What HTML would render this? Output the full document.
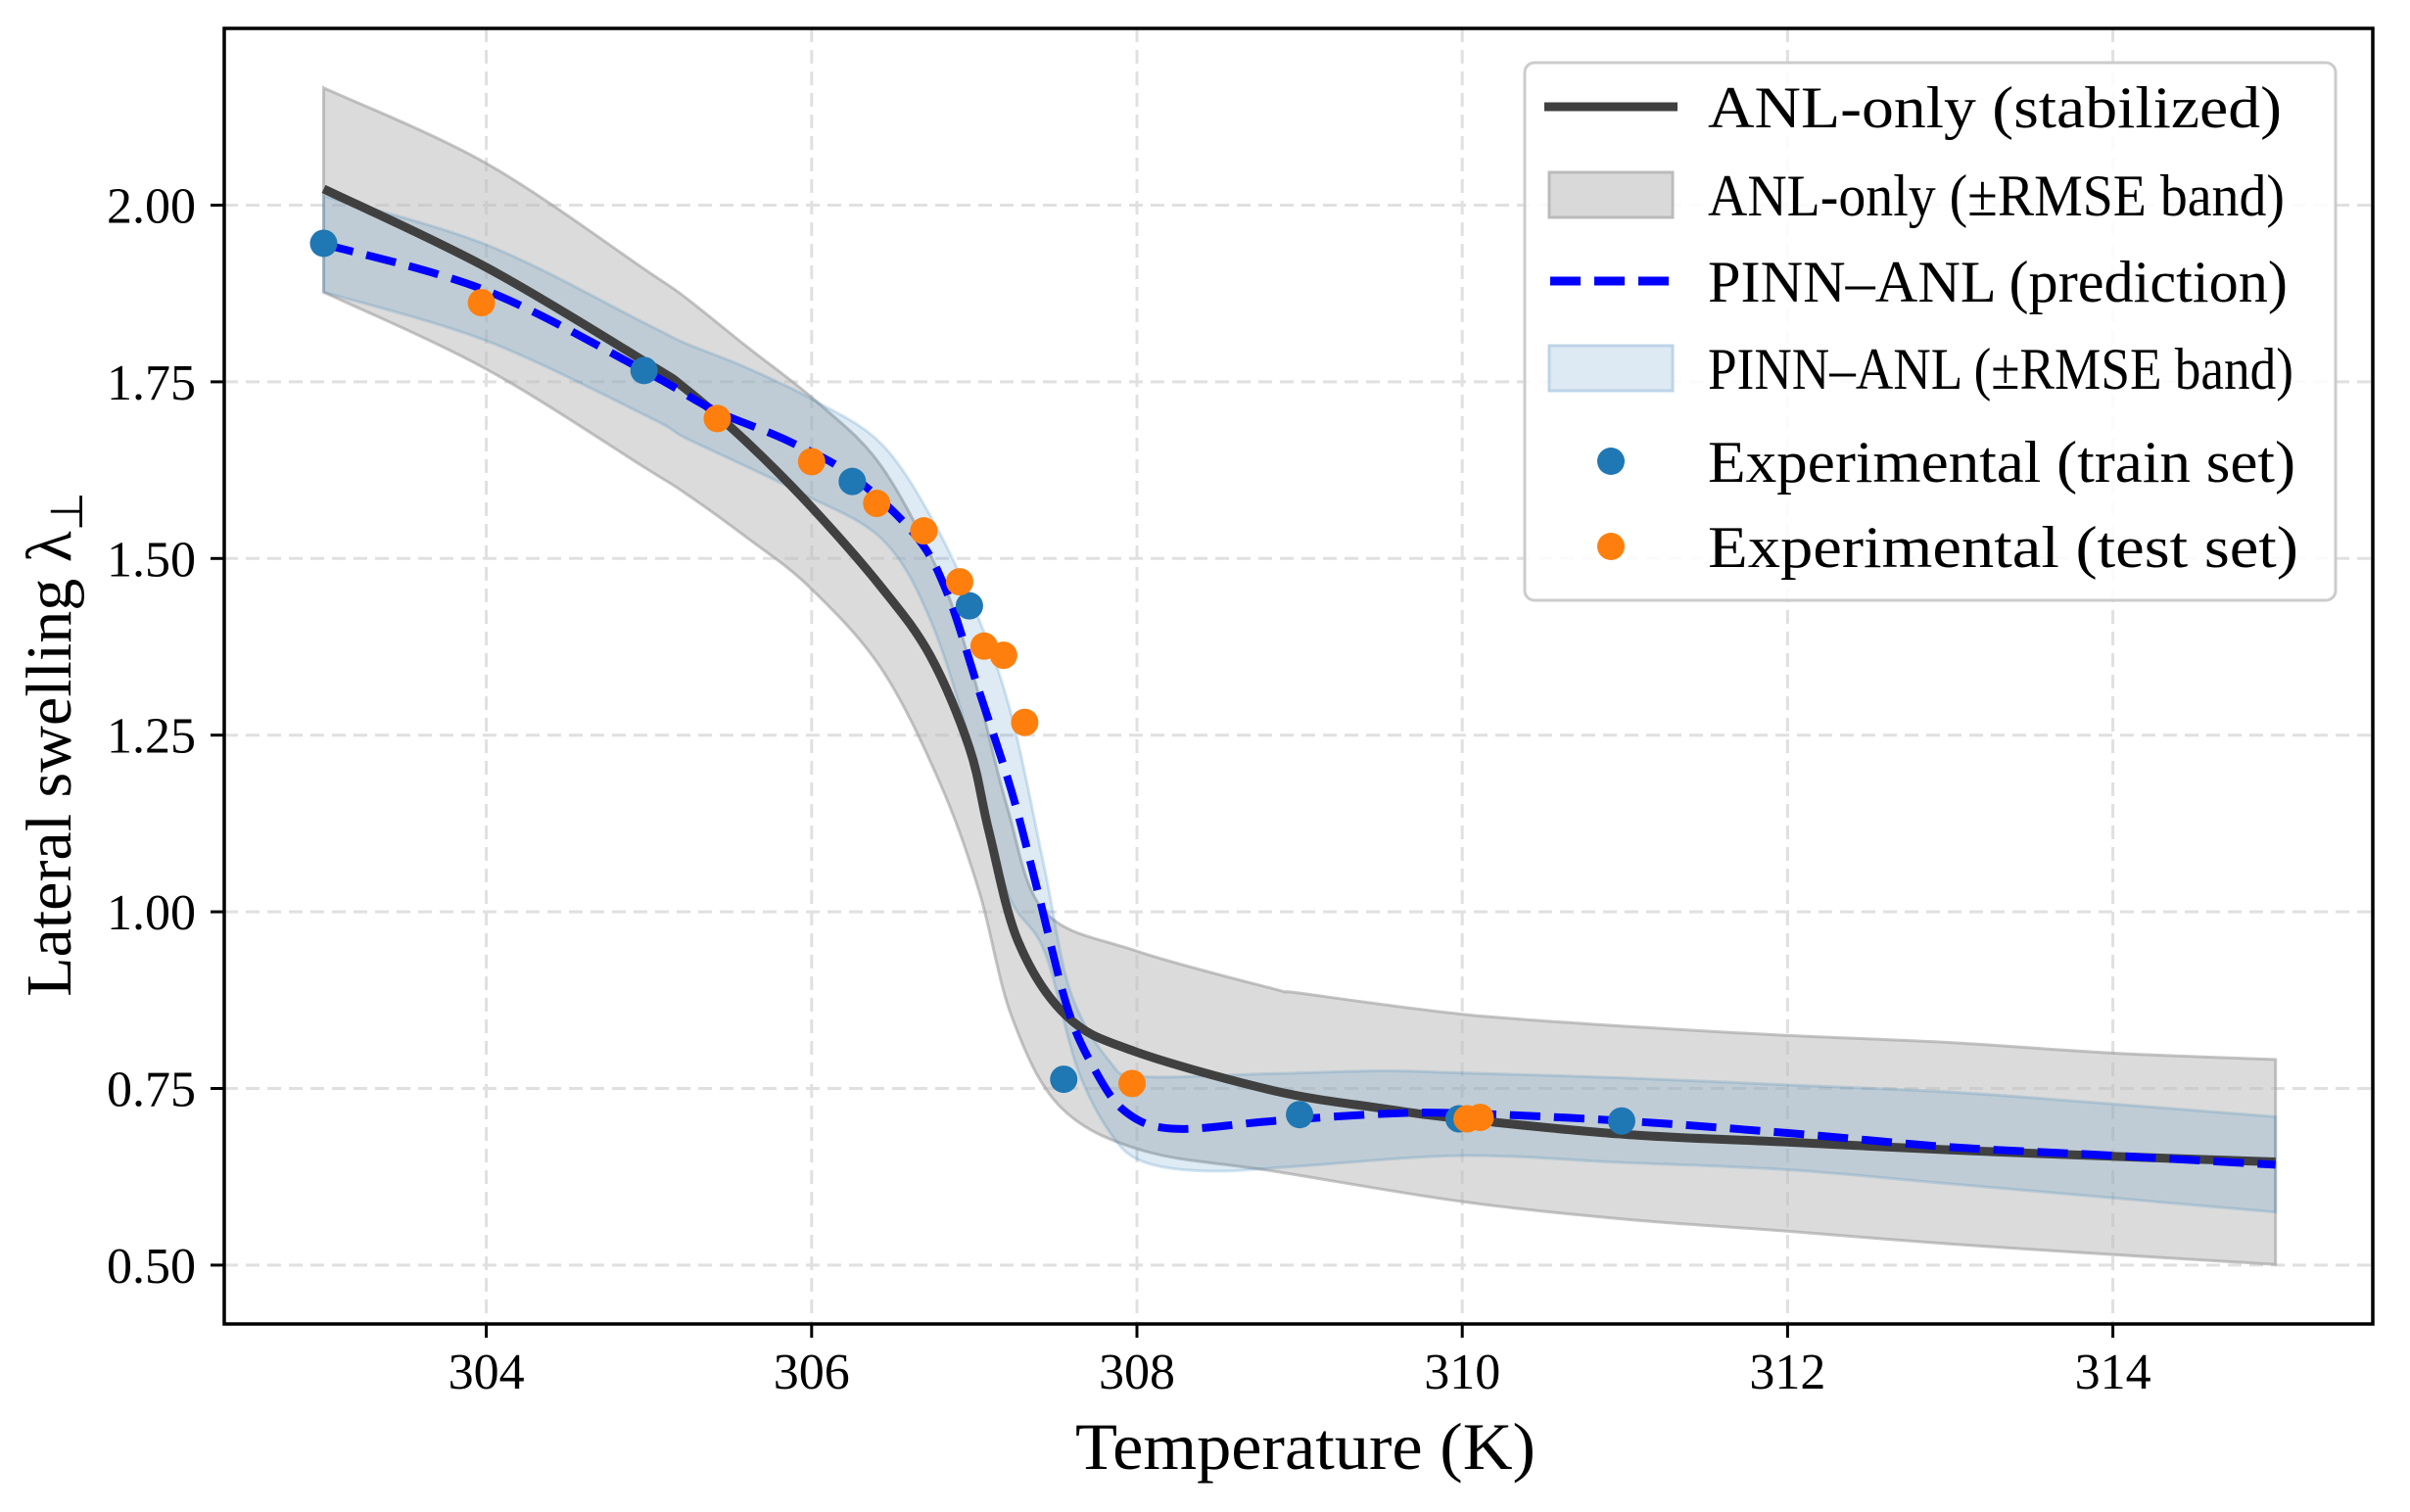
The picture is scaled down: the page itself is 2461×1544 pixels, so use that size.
<!DOCTYPE html>
<html><head><meta charset="utf-8"><style>
html,body{margin:0;padding:0;background:#fff}
svg{display:block;font-family:"Liberation Serif",serif}
</style></head><body>
<svg id="chart" width="2461" height="1544" viewBox="0 0 2461 1544" xmlns="http://www.w3.org/2000/svg">
<rect width="2461" height="1544" fill="#fff"/>
<g id="grid"></g>
<g id="bands"></g>
<g id="lines"></g>
<g id="points"></g>
<g id="axes"></g>
<text x="1333" y="1500" font-size="68" text-anchor="middle" textLength="470" lengthAdjust="spacingAndGlyphs">Temperature (K)</text>
<text transform="translate(72,760) rotate(-90)" font-size="66" text-anchor="middle">Lateral swelling λ<tspan font-size="46" dy="12">⊥</tspan></text>
<g id="legend">
  <rect x="1557" y="64" width="828" height="549" rx="10" fill="#fff" fill-opacity="0.85" stroke="#cccccc" stroke-width="3"/>
  <line x1="1577" y1="109" x2="1713" y2="109" stroke="#404040" stroke-width="9"/>
  <text x="1744" y="130" font-size="60" textLength="586" lengthAdjust="spacingAndGlyphs">ANL-only (stabilized)</text>
  <rect x="1582" y="176" width="126" height="46" fill="#d9d9d9" stroke="#bbbbbb" stroke-width="3"/>
  <text x="1744" y="220" font-size="60" textLength="589" lengthAdjust="spacingAndGlyphs">ANL-only (±RMSE band)</text>
  <line x1="1583" y1="287" x2="1705" y2="287" stroke="#0000ff" stroke-width="9" stroke-dasharray="31,14"/>
  <text x="1744" y="308" font-size="60" textLength="592" lengthAdjust="spacingAndGlyphs">PINN–ANL (prediction)</text>
  <rect x="1582" y="353" width="126" height="46" fill="#dde9f3" stroke="#bcd4e8" stroke-width="3"/>
  <text x="1744" y="397" font-size="60" textLength="598" lengthAdjust="spacingAndGlyphs">PINN–ANL (±RMSE band)</text>
  <circle cx="1645" cy="471" r="14" fill="#1f77b4"/>
  <text x="1744" y="492" font-size="60" textLength="600" lengthAdjust="spacingAndGlyphs">Experimental (train set)</text>
  <circle cx="1645" cy="558" r="14" fill="#ff7f0e"/>
  <text x="1744" y="579" font-size="60" textLength="603" lengthAdjust="spacingAndGlyphs">Experimental (test set)</text>
</g>
</svg>
<script>
const xTicks = [304, 306, 308, 310, 312, 314];
const yTicks = [0.50, 0.75, 1.00, 1.25, 1.50, 1.75, 2.00];
const yTickLabels = ["0.50", "0.75", "1.00", "1.25", "1.50", "1.75", "2.00"];
const xGrid = [304, 306, 308, 310, 312, 314];

const anlT = [303, 304, 305, 305.22, 305.6, 306.01, 306.43, 306.73, 306.97, 307.09, 307.27, 307.57, 307.98, 308.84, 309.5, 310, 311, 312, 313, 314, 315];
const anlV = [2.023, 1.912, 1.775, 1.741, 1.665, 1.570, 1.459, 1.362, 1.232, 1.114, 0.958, 0.852, 0.803, 0.747, 0.722, 0.707, 0.685, 0.674, 0.663, 0.654, 0.646];

const pinnT = [303, 304, 304.97, 305.4, 305.83, 306.23, 306.63, 306.83, 307.03, 307.23, 307.39, 307.57, 307.73, 307.93, 308.23, 308.84, 309.5, 310, 311, 312, 313, 314, 315];
const pinnV = [1.945, 1.879, 1.766, 1.71, 1.669, 1.620, 1.535, 1.453, 1.312, 1.170, 1.029, 0.866, 0.781, 0.717, 0.693, 0.704, 0.714, 0.715, 0.704, 0.687, 0.667, 0.655, 0.642];

const anlBandT = [303, 304, 305, 305.22, 305.6, 306.03, 306.43, 306.8, 307.0, 307.2, 307.43, 307.99, 308.84, 309, 310, 311, 312, 313, 314, 315];
const anlBandHi = [2.166, 2.059, 1.905, 1.870, 1.80, 1.722, 1.630, 1.47, 1.33, 1.15, 1.001, 0.945, 0.891, 0.885, 0.855, 0.838, 0.825, 0.815, 0.800, 0.791];
const anlBandLoT = [303, 304, 305, 305.22, 305.6, 305.99, 306.43, 306.79, 307.03, 307.23, 307.53, 308.04, 308.84, 310, 311, 312, 313, 314, 315];
const anlBandLo = [1.877, 1.768, 1.625, 1.593, 1.53, 1.459, 1.344, 1.182, 1.029, 0.852, 0.724, 0.662, 0.633, 0.590, 0.565, 0.548, 0.530, 0.515, 0.501];

const pinnBandHiT = [303, 304, 305, 305.22, 305.6, 306.03, 306.43, 306.75, 307.03, 307.23, 307.43, 307.59, 307.83, 308.03, 308.84, 309.5, 310, 311, 312, 313, 314, 315];
const pinnBandHi = [2.013, 1.944, 1.83, 1.805, 1.77, 1.722, 1.662, 1.552, 1.413, 1.277, 1.064, 0.888, 0.789, 0.767, 0.771, 0.775, 0.772, 0.765, 0.755, 0.745, 0.728, 0.710];
const pinnBandLoT = [303, 304, 305, 305.22, 305.6, 305.93, 306.43, 306.73, 306.99, 307.2, 307.43, 307.63, 307.83, 308.03, 308.43, 309, 310, 311, 312, 313, 314, 315];
const pinnBandLo = [1.877, 1.808, 1.70, 1.671, 1.63, 1.593, 1.528, 1.413, 1.227, 1.03, 0.945, 0.781, 0.689, 0.647, 0.633, 0.640, 0.655, 0.645, 0.635, 0.615, 0.595, 0.575];

const trainT = [303, 304.97, 306.25, 306.97, 307.55, 309.0, 309.98, 310.98];
const trainV = [1.946, 1.766, 1.609, 1.433, 0.763, 0.713, 0.707, 0.704];
const testT = [303.97, 305.42, 306.0, 306.4, 306.69, 306.91, 307.06, 307.18, 307.31, 307.97, 310.03, 310.11];
const testV = [1.862, 1.698, 1.637, 1.578, 1.539, 1.467, 1.376, 1.363, 1.268, 0.757, 0.707, 0.709];

const NS = "http://www.w3.org/2000/svg";
const X0 = 229, X1 = 2423, Y0 = 29, Y1 = 1352;
function sx(t) { return 496.6 + (t - 304) * 166.1; }
function sy(v) { return 209.5 + (2 - v) * 721.6; }
function mk(tag, attrs, parent) {
  const e = document.createElementNS(NS, tag);
  for (const k in attrs) e.setAttribute(k, attrs[k]);
  parent.appendChild(e);
  return e;
}
function smooth(pts) {
  let d = "M" + pts[0][0].toFixed(1) + "," + pts[0][1].toFixed(1);
  for (let i = 0; i < pts.length - 1; i++) {
    const p0 = pts[Math.max(0, i - 1)], p1 = pts[i], p2 = pts[i + 1], p3 = pts[Math.min(pts.length - 1, i + 2)];
    const c1x = p1[0] + (p2[0] - p0[0]) / 6, c1y = p1[1] + (p2[1] - p0[1]) / 6;
    const c2x = p2[0] - (p3[0] - p1[0]) / 6, c2y = p2[1] - (p3[1] - p1[1]) / 6;
    d += " C" + c1x.toFixed(1) + "," + c1y.toFixed(1) + " " + c2x.toFixed(1) + "," + c2y.toFixed(1) + " " + p2[0].toFixed(1) + "," + p2[1].toFixed(1);
  }
  return d;
}
function pts(T, V) { return T.map((t, i) => [sx(t), sy(V[i])]); }
function bandPath(hT, hV, lT, lV) {
  const up = pts(hT, hV), lo = pts(lT, lV).reverse();
  return smooth(up) + " L" + lo[0][0].toFixed(1) + "," + lo[0][1].toFixed(1) + " " + smooth(lo).slice(1) + " Z";
}

const grid = document.getElementById("grid");
xGrid.forEach(t => {
  const l = mk("line", {x1: sx(t), x2: sx(t), y1: Y0, y2: Y1, stroke: "#e0e0e0", "stroke-width": 3, "stroke-dasharray": "14,8"}, grid);
  
  
});
yTicks.forEach(v => {
  const l = mk("line", {x1: X0, x2: X1, y1: sy(v), y2: sy(v), stroke: "#e0e0e0", "stroke-width": 3, "stroke-dasharray": "14,8"}, grid);
  
  
});

const bands = document.getElementById("bands");
const gb = mk("path", {d: bandPath(anlBandT, anlBandHi, anlBandLoT, anlBandLo), fill: "#bdbdbd", "fill-opacity": 0.55, stroke: "#9e9e9e", "stroke-opacity": 0.6, "stroke-width": 3}, bands);


const bb = mk("path", {d: bandPath(pinnBandHiT, pinnBandHi, pinnBandLoT, pinnBandLo), fill: "#1f77b4", "fill-opacity": 0.15, stroke: "#1f77b4", "stroke-opacity": 0.18, "stroke-width": 3}, bands);



const lines = document.getElementById("lines");
const al = mk("path", {d: smooth(pts(anlT, anlV)), fill: "none", stroke: "#404040", "stroke-width": 9}, lines);


const pl = mk("path", {d: smooth(pts(pinnT, pinnV)), fill: "none", stroke: "#0000ff", "stroke-width": 8, "stroke-dasharray": "31,14"}, lines);



const pg = document.getElementById("points");
trainT.forEach((t, i) => {
  const c = mk("circle", {cx: sx(t), cy: sy(trainV[i]), r: 14, fill: "#1f77b4"}, pg);
  
  
});
testT.forEach((t, i) => {
  const c = mk("circle", {cx: sx(t), cy: sy(testV[i]), r: 14, fill: "#ff7f0e"}, pg);
  
  
});

const axes = document.getElementById("axes");
const fr = mk("rect", {x: X0, y: Y0, width: X1 - X0, height: Y1 - Y0, fill: "none", stroke: "#000", "stroke-width": 3.5}, axes);


xTicks.forEach(t => {
  const tk = mk("line", {x1: sx(t), x2: sx(t), y1: Y1, y2: Y1 + 14, stroke: "#000", "stroke-width": 3}, axes);
  
  
  const tx = mk("text", {x: sx(t), y: 1418, "font-size": 52, "text-anchor": "middle"}, axes);
  tx.textContent = String(t);
  
  
});
yTicks.forEach((v, i) => {
  const tk = mk("line", {x1: X0 - 14, x2: X0, y1: sy(v), y2: sy(v), stroke: "#000", "stroke-width": 3}, axes);
  
  
  const tx = mk("text", {x: 200, y: sy(v) + 18, "font-size": 52, "text-anchor": "end"}, axes);
  tx.textContent = yTickLabels[i];
  
  
});
</script>
</body></html>
